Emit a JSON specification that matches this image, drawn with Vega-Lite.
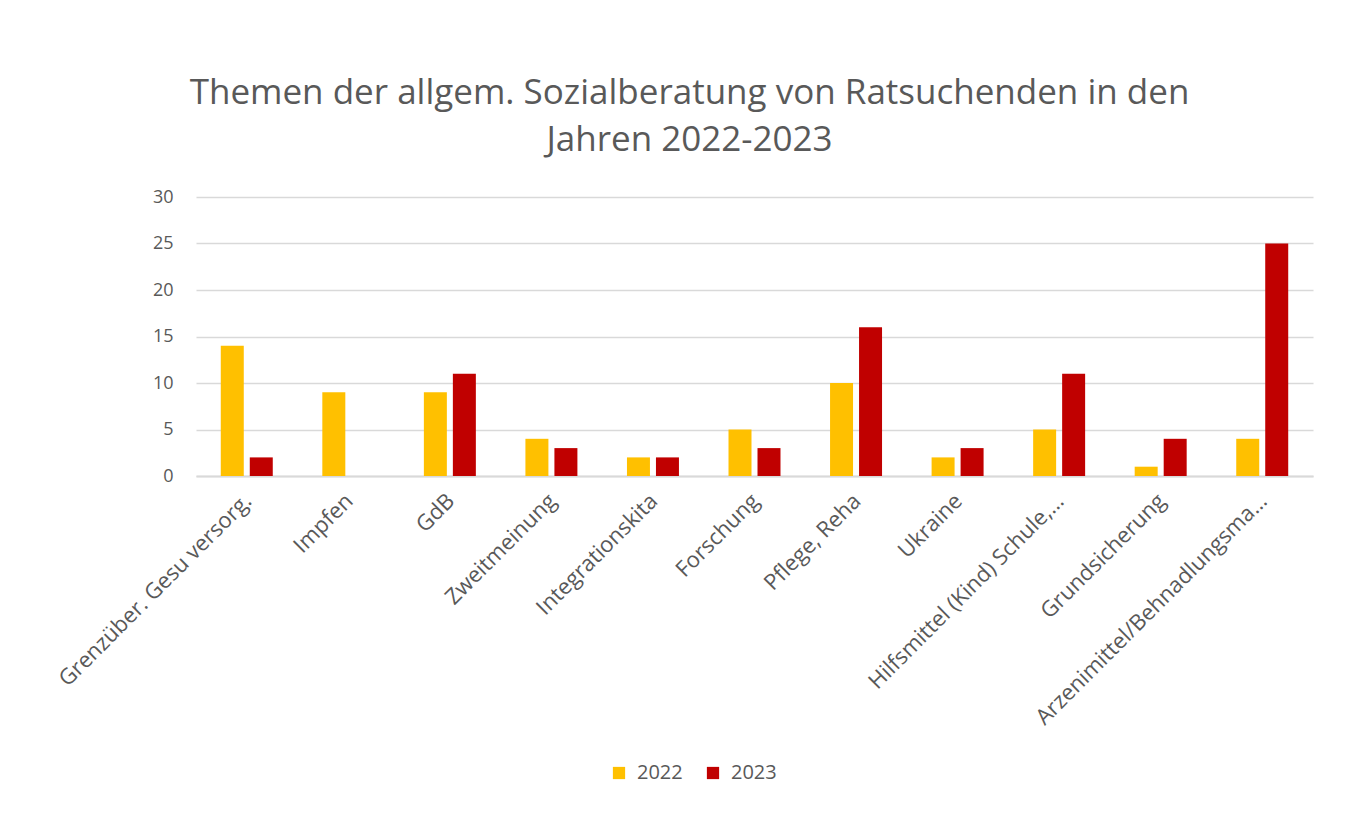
{
  "$schema": "https://vega.github.io/schema/vega-lite/v6.json",
  "autosize": "none",
  "width": 1117,
  "height": 279,
  "padding": {"left": 196, "top": 197, "right": 49, "bottom": 338},
  "background": "white",
  "title": {
    "text": ["Themen der allgem. Sozialberatung von Ratsuchenden in den", "Jahren 2022-2023"],
    "anchor": "middle",
    "frame": "group",
    "dx": -65,
    "offset": 30,
    "font": "Open Sans",
    "fontSize": 35,
    "fontWeight": "normal",
    "color": "#595959",
    "lineHeight": 47
  },
  "data": {
    "values": [
      {"thema": "Grenzüber. Gesu versorg.", "jahr": "2022", "anzahl": 14},
      {"thema": "Grenzüber. Gesu versorg.", "jahr": "2023", "anzahl": 2},
      {"thema": "Impfen", "jahr": "2022", "anzahl": 9},
      {"thema": "Impfen", "jahr": "2023", "anzahl": 0},
      {"thema": "GdB", "jahr": "2022", "anzahl": 9},
      {"thema": "GdB", "jahr": "2023", "anzahl": 11},
      {"thema": "Zweitmeinung", "jahr": "2022", "anzahl": 4},
      {"thema": "Zweitmeinung", "jahr": "2023", "anzahl": 3},
      {"thema": "Integrationskita", "jahr": "2022", "anzahl": 2},
      {"thema": "Integrationskita", "jahr": "2023", "anzahl": 2},
      {"thema": "Forschung", "jahr": "2022", "anzahl": 5},
      {"thema": "Forschung", "jahr": "2023", "anzahl": 3},
      {"thema": "Pflege, Reha", "jahr": "2022", "anzahl": 10},
      {"thema": "Pflege, Reha", "jahr": "2023", "anzahl": 16},
      {"thema": "Ukraine", "jahr": "2022", "anzahl": 2},
      {"thema": "Ukraine", "jahr": "2023", "anzahl": 3},
      {"thema": "Hilfsmittel (Kind) Schule,…", "jahr": "2022", "anzahl": 5},
      {"thema": "Hilfsmittel (Kind) Schule,…", "jahr": "2023", "anzahl": 11},
      {"thema": "Grundsicherung", "jahr": "2022", "anzahl": 1},
      {"thema": "Grundsicherung", "jahr": "2023", "anzahl": 4},
      {"thema": "Arzenimittel/Behnadlungsma…", "jahr": "2022", "anzahl": 4},
      {"thema": "Arzenimittel/Behnadlungsma…", "jahr": "2023", "anzahl": 25}
    ]
  },
  "mark": {"type": "bar"},
  "encoding": {
    "x": {
      "field": "thema",
      "type": "nominal",
      "sort": null,
      "scale": {"paddingInner": 0.488, "paddingOuter": 0.244},
      "axis": {
        "title": null,
        "labelAngle": -45,
        "labelFont": "Open Sans",
        "labelFontSize": 22,
        "labelColor": "#595959",
        "labelPadding": 14,
        "labelOffset": -6,
        "ticks": false,
        "domainColor": "#D9D9D9",
        "domainWidth": 2,
        "labelLimit": 500
      }
    },
    "xOffset": {
      "field": "jahr",
      "type": "nominal",
      "scale": {"paddingInner": 0.207, "paddingOuter": 0}
    },
    "y": {
      "field": "anzahl",
      "type": "quantitative",
      "scale": {"domain": [0, 30], "nice": false},
      "axis": {
        "title": null,
        "values": [0, 5, 10, 15, 20, 25, 30],
        "labelFont": "Open Sans",
        "labelFontSize": 18,
        "labelColor": "#595959",
        "labelPadding": 23,
        "ticks": false,
        "domain": false,
        "gridColor": "#D9D9D9",
        "gridWidth": 1.5
      }
    },
    "color": {
      "field": "jahr",
      "type": "nominal",
      "scale": {"domain": ["2022", "2023"], "range": ["#FFC000", "#C00000"]},
      "legend": {
        "title": null,
        "orient": "none",
        "direction": "horizontal",
        "legendX": 413,
        "legendY": 566,
        "symbolType": "square",
        "symbolSize": 150,
        "symbolStrokeWidth": 0,
        "labelFont": "Open Sans",
        "labelFontSize": 20,
        "labelColor": "#595959",
        "columnPadding": 20,
        "labelOffset": 8
      }
    }
  },
  "config": {"view": {"stroke": null}}
}
